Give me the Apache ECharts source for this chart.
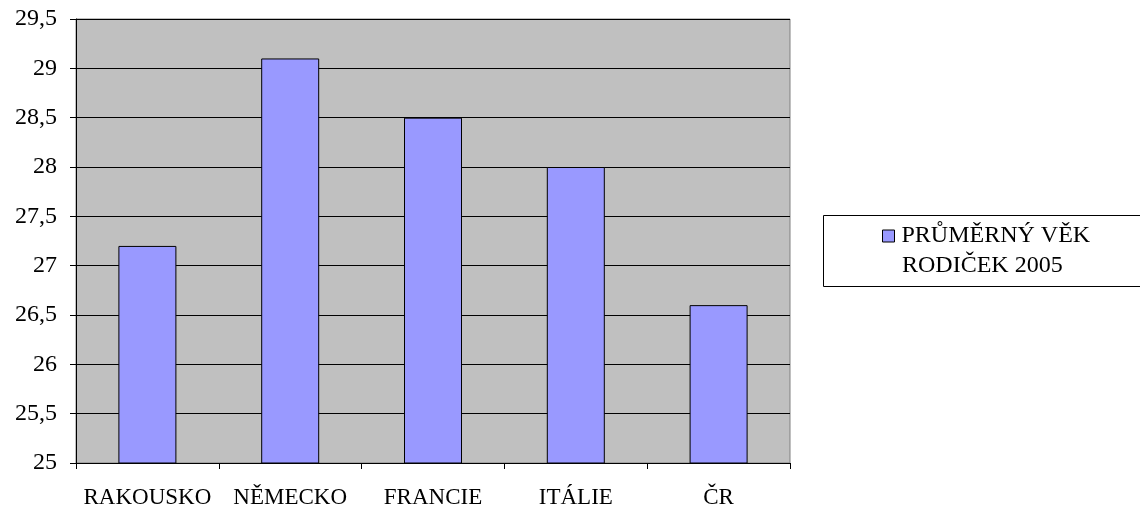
<!DOCTYPE html>
<html><head><meta charset="utf-8">
<script src="https://cdn.jsdelivr.net/npm/echarts@6/dist/echarts.min.js"></script>
<style>html,body{margin:0;padding:0;background:#fff}#c{width:1140px;height:513px}</style>
</head><body><div id="c"></div>
<script>
const categories = ['RAKOUSKO', 'NĚMECKO', 'FRANCIE', 'ITÁLIE', 'ČR'];
const values = [27.2, 29.1, 28.5, 28.0, 26.6];
const seriesName = 'PRŮMĚRNÝ VĚK';
const seriesName2 = 'RODIČEK 2005';
const FONT = 'Liberation Serif';
const chart = echarts.init(document.getElementById('c'));
chart.setOption({
  animation: false,
  backgroundColor: '#fff',
  grid: { left: 76, right: 350, top: 19, bottom: 50, show: true, backgroundColor: '#C0C0C0', borderColor: '#808080', borderWidth: 1 },
  xAxis: {
    type: 'category', data: categories, boundaryGap: true,
    axisLine: { lineStyle: { color: '#000', width: 1 } },
    axisTick: { show: true, length: 6, lineStyle: { color: '#000' } },
    axisLabel: { color: '#000', fontFamily: FONT, fontSize: 23, margin: 23, interval: 0 }
  },
  yAxis: {
    type: 'value', min: 25, max: 29.5, interval: 0.5,
    axisLine: { show: true, lineStyle: { color: '#000', width: 1 } },
    axisTick: { show: true, length: 6, lineStyle: { color: '#000' } },
    splitLine: { lineStyle: { color: '#000', width: 1 } },
    axisLabel: { color: '#000', fontFamily: FONT, fontSize: 24, margin: 19,
      formatter: v => String(v).replace('.', ',') }
  },
  legend: {
    data: [seriesName], left: 877, top: 219, orient: 'vertical',
    icon: 'rect', itemWidth: 12, itemHeight: 12, itemGap: 0,
    itemStyle: { borderColor: '#000', borderWidth: 1 },
    textStyle: { color: '#000', fontFamily: FONT, fontSize: 24, padding: [0, 0, 0, 2] }
  },
  graphic: [
    { type: 'rect', left: 821, top: 213, shape: { width: 317, height: 71 },
      style: { fill: 'none', stroke: '#000', lineWidth: 1 }, silent: true },
    { type: 'text', left: 902, top: 254,
      style: { text: seriesName2, fill: '#000', fontFamily: FONT, fontSize: 24 } }
  ],
  series: [{
    name: seriesName, type: 'bar', data: values, barWidth: 58,
    itemStyle: { color: '#9999FF', borderColor: '#000', borderWidth: 1 }
  }]
});
</script></body></html>
